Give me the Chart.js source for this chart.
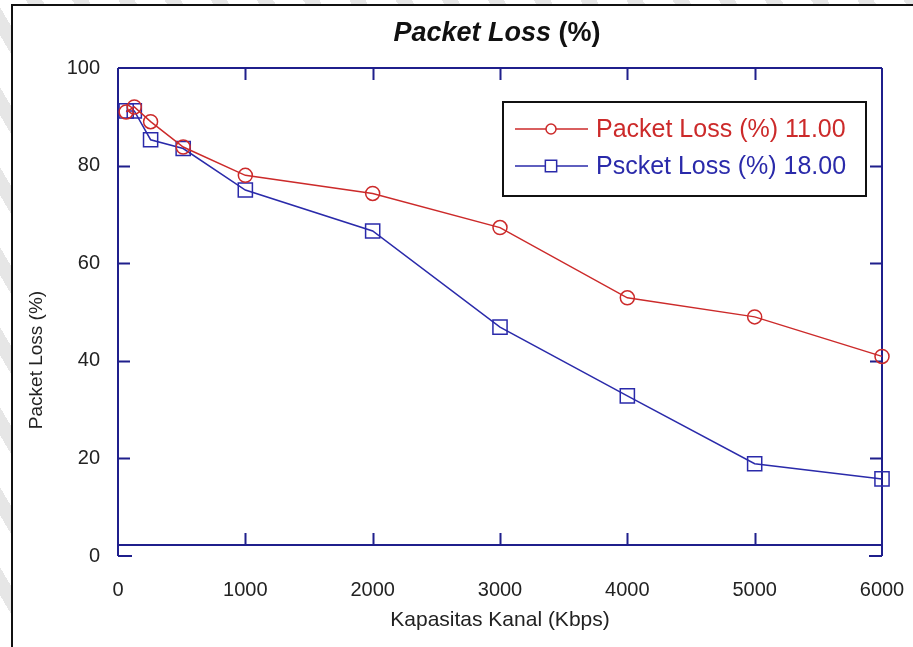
<!DOCTYPE html>
<html lang="id">
<head>
<meta charset="UTF-8">
<title>Packet Loss (%)</title>
<script src="https://cdn.jsdelivr.net/npm/chart.js@4.4.0/dist/chart.umd.min.js"></script>
<style>
  html, body { margin: 0; padding: 0; width: 913px; height: 647px; overflow: hidden; }
  body {
    position: relative;
    background: repeating-linear-gradient(60deg, #ffffff 0 26px, #e6e6e6 26px 40px);
  }
  #panel {
    position: absolute; left: 11px; top: 4px; width: 930px; height: 670px;
    background: #fff; border-left: 2px solid #111; border-top: 2px solid #111;
  }
  #plot { position: absolute; left: 0; top: 0; }
</style>
</head>
<body>
<div id="panel"></div>
<canvas id="plot" width="913" height="647"></canvas>

<script>
// kapasitas kanal (Kbps)
const kapasitas = [64, 128, 256, 512, 1000, 2000, 3000, 4000, 5000, 6000];
// packet loss (%) per skenario
const loss11 = [91.0, 92.0, 89.0, 83.8, 78.0, 74.3, 67.3, 52.9, 49.0, 40.9];
const loss18 = [91.2, 91.2, 85.3, 83.5, 75.0, 66.6, 46.9, 32.8, 18.9, 15.8];
const seriesLabels = ['Packet Loss (%) 11.00', 'Pscket Loss (%) 18.00'];

const RED = '#cc2a2a';
const BLUE = '#2a2aaa';
const AXIS = '#1f1f8c';
const FONT = '"Liberation Sans", Arial, sans-serif';

// bingkai sumbu gaya lama: garis bawah sedikit di atas nol, tick menghadap ke dalam
const axisFrame = {
  id: 'axisFrame',
  beforeDatasetsDraw(chart) {
    const { ctx, chartArea: a, scales } = chart;
    const xs = scales.x, ys = scales.y;
    const base = a.bottom - 11;
    ctx.save();
    ctx.strokeStyle = AXIS;
    ctx.lineWidth = 2;
    ctx.beginPath();
    ctx.moveTo(a.left, a.top); ctx.lineTo(a.right, a.top);
    ctx.moveTo(a.left, a.top); ctx.lineTo(a.left, a.bottom);
    ctx.moveTo(a.right, a.top); ctx.lineTo(a.right, a.bottom);
    ctx.moveTo(a.left, base); ctx.lineTo(a.right, base);
    ctx.moveTo(a.left, a.bottom); ctx.lineTo(a.left + 14, a.bottom);
    ctx.moveTo(a.right, a.bottom); ctx.lineTo(a.right - 13, a.bottom);
    xs.ticks.forEach(t => {
      if (t.value <= xs.min || t.value >= xs.max) return;
      const px = Math.round(xs.getPixelForValue(t.value)) + 0.5;
      ctx.moveTo(px, base); ctx.lineTo(px, base - 12);
      ctx.moveTo(px, a.top); ctx.lineTo(px, a.top + 12);
    });
    ys.ticks.forEach(t => {
      if (t.value <= ys.min || t.value >= ys.max) return;
      const py = Math.round(ys.getPixelForValue(t.value)) + 0.5;
      ctx.moveTo(a.left, py); ctx.lineTo(a.left + 12, py);
      ctx.moveTo(a.right, py); ctx.lineTo(a.right - 12, py);
    });
    ctx.stroke();
    ctx.restore();
  },
  afterDraw(chart) {
    const { ctx, chartArea: a } = chart;
    ctx.save();

    // judul: "Packet Loss" miring tebal, "(%)" tebal
    const t1 = 'Packet Loss', t2 = ' (%)';
    ctx.fillStyle = '#111';
    ctx.textBaseline = 'middle';
    ctx.font = 'italic bold 27px ' + FONT;
    const w1 = ctx.measureText(t1).width;
    ctx.font = 'bold 27px ' + FONT;
    const w2 = ctx.measureText(t2).width;
    const tx = (a.left + a.right) / 2 - 3 - (w1 + w2) / 2;
    ctx.font = 'italic bold 27px ' + FONT;
    ctx.fillText(t1, tx, 34);
    ctx.font = 'bold 27px ' + FONT;
    ctx.fillText(t2, tx + w1, 34);

    // judul sumbu Y, agak ke bawah dari tengah
    ctx.save();
    ctx.translate(37, 360);
    ctx.rotate(-Math.PI / 2);
    ctx.textAlign = 'center';
    ctx.fillStyle = '#222';
    ctx.font = '19px ' + FONT;
    ctx.fillText('Packet Loss (%)', 0, 0);
    ctx.restore();

    // legenda dalam kotak di kanan atas area plot
    const bx = a.left + 385, by = a.top + 34, bw = 363, bh = 94;
    ctx.fillStyle = '#fff';
    ctx.fillRect(bx, by, bw, bh);
    ctx.strokeStyle = '#111';
    ctx.lineWidth = 2;
    ctx.strokeRect(bx, by, bw, bh);
    ctx.font = '25px ' + FONT;
    chart.data.datasets.forEach((ds, i) => {
      const ly = by + 27 + i * 37;
      ctx.strokeStyle = ds.borderColor;
      ctx.lineWidth = 1.5;
      ctx.beginPath();
      ctx.moveTo(bx + 12, ly); ctx.lineTo(bx + 85, ly);
      ctx.stroke();
      ctx.fillStyle = '#fff';
      Chart.helpers.drawPoint(ctx, {
        pointStyle: ds.pointStyle, radius: ds.pointStyle === 'rect' ? 8 : 5,
        borderWidth: 1.5
      }, bx + 48, ly);
      ctx.fillStyle = ds.borderColor;
      ctx.fillText(ds.label, bx + 93, ly + 1);
    });
    ctx.restore();
  }
};

new Chart(document.getElementById('plot').getContext('2d'), {
  type: 'line',
  data: {
    datasets: [
      {
        label: seriesLabels[0],
        data: kapasitas.map((k, i) => ({ x: k, y: loss11[i] })),
        borderColor: RED,
        borderWidth: 1.5,
        pointStyle: 'circle',
        pointRadius: 7,
        pointBorderWidth: 1.5,
        pointBackgroundColor: 'rgba(0,0,0,0)',
        pointBorderColor: RED,
        tension: 0,
        clip: false
      },
      {
        label: seriesLabels[1],
        data: kapasitas.map((k, i) => ({ x: k, y: loss18[i] })),
        borderColor: BLUE,
        borderWidth: 1.5,
        pointStyle: 'rect',
        pointRadius: 10,
        pointBorderWidth: 1.5,
        pointBackgroundColor: 'rgba(0,0,0,0)',
        pointBorderColor: BLUE,
        tension: 0,
        clip: false
      }
    ]
  },
  options: {
    responsive: false,
    animation: false,
    layout: { padding: { top: 68, right: 31, left: 0, bottom: 0 } },
    plugins: {
      legend: { display: false },
      title: { display: false },
      tooltip: { enabled: false }
    },
    scales: {
      x: {
        type: 'linear',
        min: 0, max: 6000,
        ticks: { stepSize: 1000, color: '#222', padding: 22, maxRotation: 0,
                 font: { family: FONT, size: 20 }, callback: v => String(v) },
        grid: { display: false, drawTicks: false },
        border: { display: false },
        title: { display: true, text: 'Kapasitas Kanal (Kbps)', color: '#222',
                 padding: { top: 0, bottom: 14 }, font: { family: FONT, size: 21 } },
        afterFit(scale) { scale.height = 91; scale.paddingLeft = 0; scale.paddingRight = 0; }
      },
      y: {
        min: 0, max: 100,
        ticks: { stepSize: 20, color: '#222', padding: 18,
                 font: { family: FONT, size: 20 } },
        grid: { display: false, drawTicks: false },
        border: { display: false },
        afterFit(scale) { scale.width = 118; scale.paddingTop = 0; scale.paddingBottom = 0; }
      }
    }
  },
  plugins: [axisFrame]
});
</script>
</body>
</html>
